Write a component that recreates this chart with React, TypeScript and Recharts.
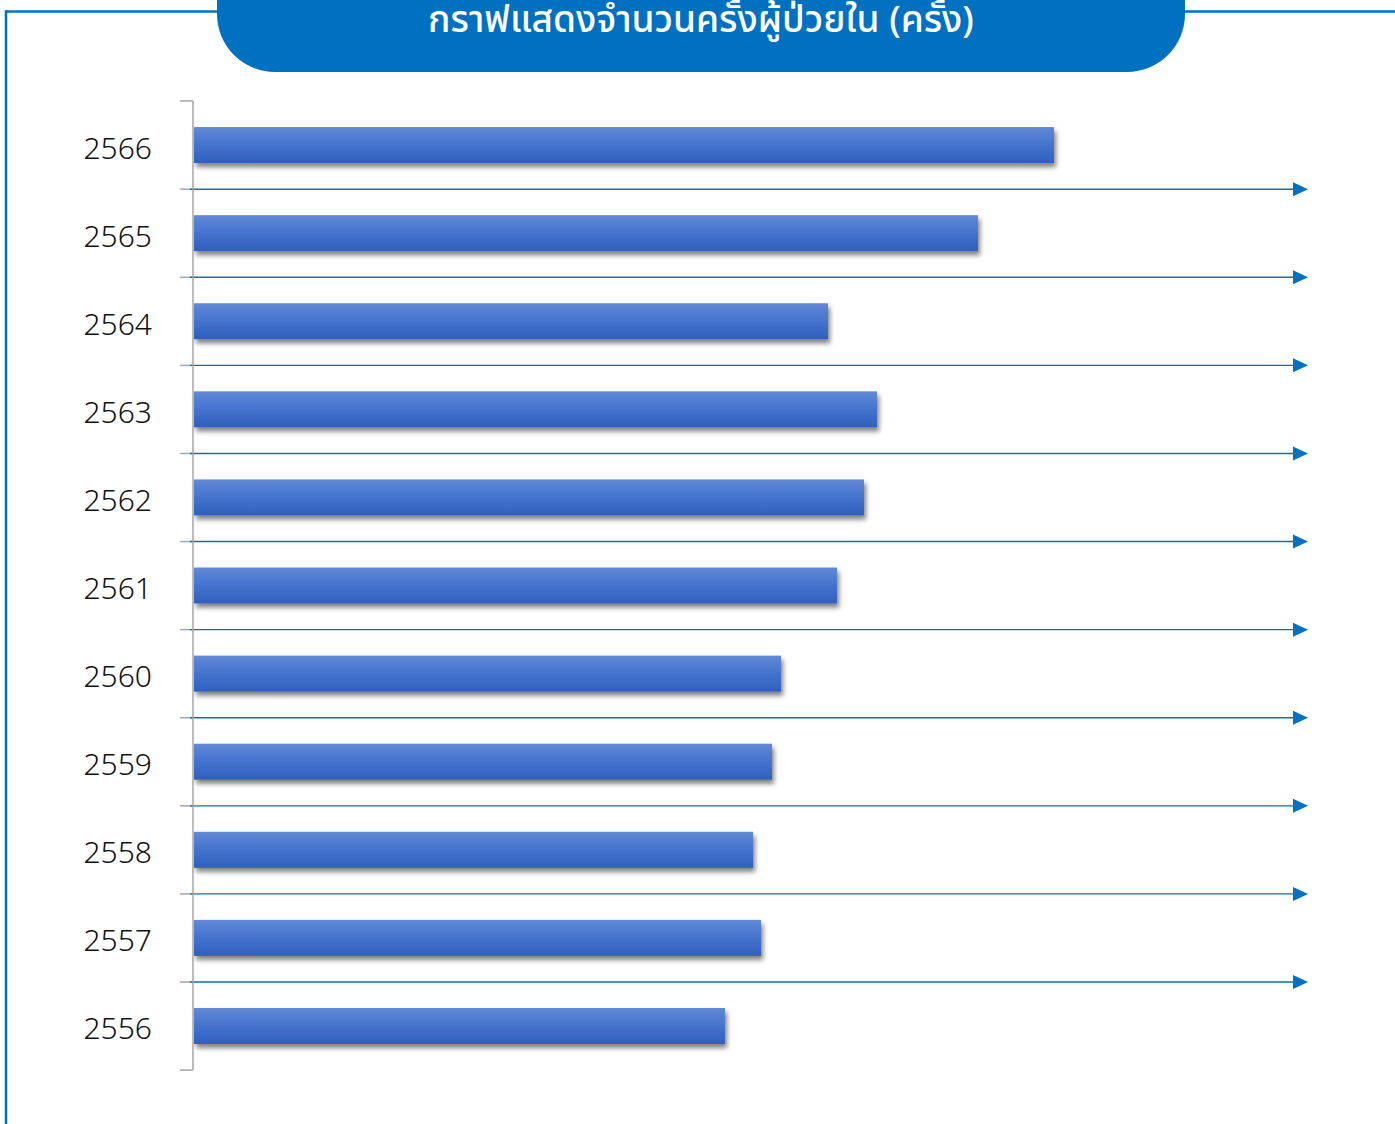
import React from 'react';
import { BarChart, Bar, XAxis, YAxis } from 'recharts';

const years = ['2566', '2565', '2564', '2563', '2562', '2561', '2560', '2559', '2558', '2557', '2556'];
const inpatientVisits = [8610, 7850, 6350, 6840, 6710, 6440, 5880, 5790, 5600, 5680, 5320];
const xDomain: [number, number] = [0, 11040];
const titleText = 'กราฟแสดงจำนวนครั้งผู้ป่วยใน (ครั้ง)';

const data = years.map((year, i) => ({ year, value: inpatientVisits[i] }));

const W = 1395;
const H = 1124;
const MARGIN = { top: 101, right: 98, bottom: 54, left: 0 };
const YAXIS_W = 193;
const GAP = 0.296;
const BLUE = '#0070C0';
const GRAY = '#A6A6A6';

const BarShape = (props: any) => {
  const { x, y, width, height, index } = props;
  const band = height / (1 - 2 * GAP);
  const top = y - (band - height) / 2;
  const bottom = top + band;
  const right = W - MARGIN.right;
  const last = index === years.length - 1;
  return (
    <g>
      {index === 0 && <line x1={x - 13} x2={x} y1={top} y2={top} stroke={GRAY} strokeWidth={1.5} />}
      <line x1={x - 13} x2={x} y1={bottom} y2={bottom} stroke={GRAY} strokeWidth={1.5} />
      {!last && (
        <g>
          <line x1={x - 3} x2={right - 2} y1={bottom} y2={bottom} stroke={BLUE} strokeWidth={1.4} />
          <polygon points={`${right - 4},${bottom - 7} ${right + 11},${bottom} ${right - 4},${bottom + 7}`} fill={BLUE} />
        </g>
      )}
      <rect x={x + 1} y={y} width={Math.max(0, width - 1)} height={height} fill="url(#barGrad)" filter="url(#barShadow)" />
    </g>
  );
};

const YTick = (props: any) => {
  const { y, payload } = props;
  return (
    <text
      x={MARGIN.left + YAXIS_W - 41}
      y={y + 2}
      textAnchor="end"
      dominantBaseline="central"
      fontSize={30}
      fontWeight={300}
      fontFamily="'Noto Sans', 'DejaVu Sans', sans-serif"
      fill="#111"
    >
      {payload.value}
    </text>
  );
};

export default function App() {
  return (
    <div style={{ position: 'absolute', left: 0, top: 0, width: W, height: H, overflow: 'hidden', background: '#fff' }}>
      <svg width={0} height={0} style={{ position: 'absolute' }}>
        <defs>
          <linearGradient id="barGrad" x1="0" y1="0" x2="0" y2="1">
            <stop offset="0%" stopColor="#6189D6" />
            <stop offset="50%" stopColor="#4573CD" />
            <stop offset="100%" stopColor="#2F5FBE" />
          </linearGradient>
          <filter id="barShadow" x="-5%" y="-30%" width="115%" height="180%">
            <feDropShadow dx="2" dy="4" stdDeviation="2.5" floodColor="#000" floodOpacity="0.5" />
          </filter>
        </defs>
      </svg>
      <div style={{ position: 'absolute', left: 0, top: 0 }}>
        <BarChart width={W} height={H} data={data} layout="vertical" margin={MARGIN} barCategoryGap={`${GAP * 100}%`}>
          <XAxis type="number" domain={xDomain} hide />
          <YAxis
            type="category"
            dataKey="year"
            width={YAXIS_W}
            axisLine={{ stroke: GRAY, strokeWidth: 1.5 }}
            tickLine={false}
            tick={<YTick />}
            interval={0}
          />
          <Bar dataKey="value" isAnimationActive={false} shape={<BarShape />} />
        </BarChart>
      </div>
      <svg width={W} height={H} style={{ position: 'absolute', left: 0, top: 0, pointerEvents: 'none' }}>
        <line x1={6} y1={11.5} x2={217} y2={11.5} stroke={BLUE} strokeWidth={2.5} />
        <line x1={1185} y1={11.5} x2={W} y2={11.5} stroke={BLUE} strokeWidth={2.5} />
        <line x1={6} y1={10.3} x2={6} y2={H} stroke={BLUE} strokeWidth={2.5} />
        <path d="M217,-10 L1185,-10 L1185,14 A58,58 0 0 1 1127,72 L275,72 A58,58 0 0 1 217,14 Z" fill={BLUE} />
        <text
          x={701}
          y={32}
          textAnchor="middle"
          fontSize={37}
          fontWeight={500}
          fontFamily="'Noto Sans Thai', 'Noto Sans', sans-serif"
          fill="#fff"
        >
          {titleText}
        </text>
      </svg>
    </div>
  );
}
